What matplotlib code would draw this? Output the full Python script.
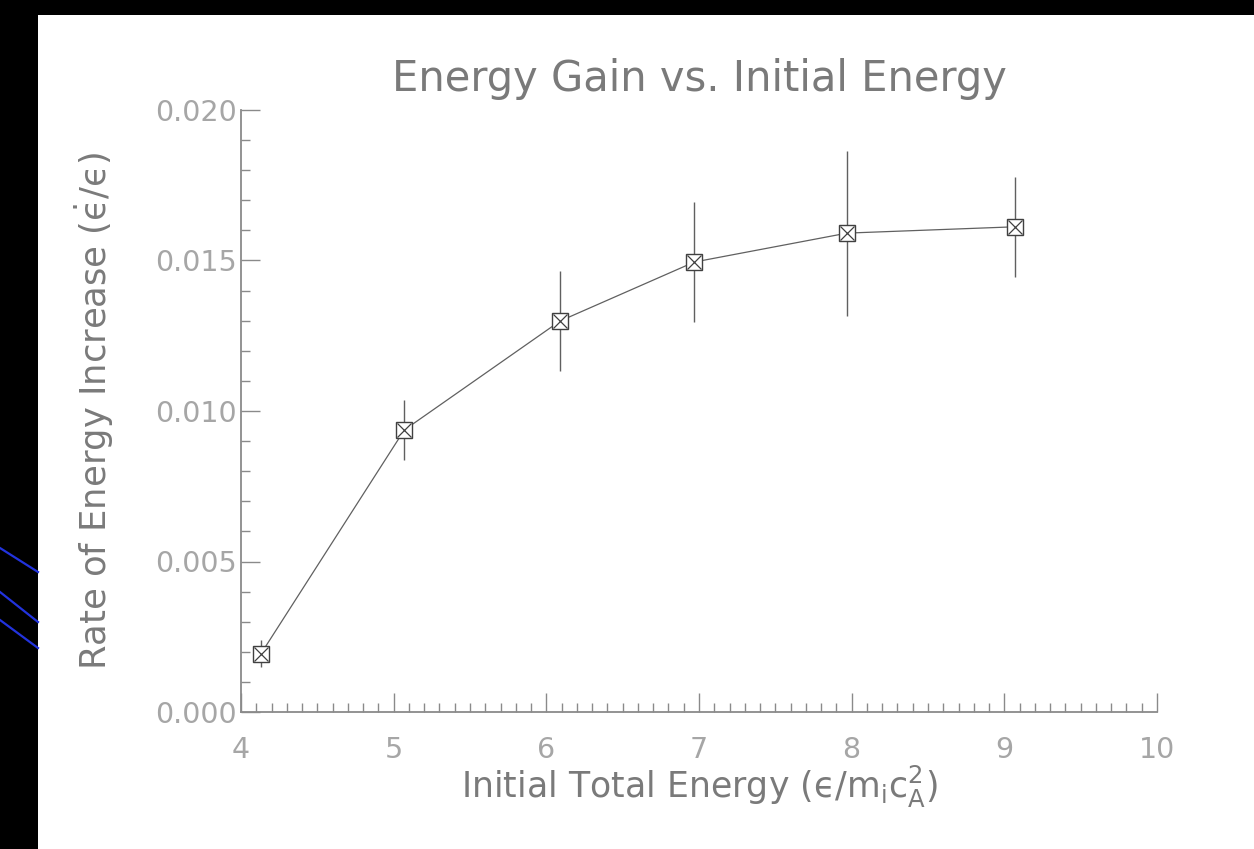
import matplotlib.pyplot as plt
import numpy as np
from matplotlib.patches import Rectangle
from matplotlib.ticker import MultipleLocator

plt.rcParams['mathtext.default'] = 'regular'
plt.rcParams['font.family'] = ['DejaVu Sans']

# values
energy = [4.13, 5.07, 6.09, 6.97, 7.97, 9.07]
rate = [0.00193, 0.00937, 0.01299, 0.01495, 0.01591, 0.01612]
rate_err = [0.00045, 0.0010, 0.00165, 0.0020, 0.00274, 0.00166]

grey = '#8a8a8a'
ink = '#606060'

fig = plt.figure(figsize=(12.54, 8.49), dpi=100, facecolor='black')

# slide background: white panel, black border, a few blue streaks on the left
fig.patches.append(Rectangle((38 / 1254, 0), 1, 1 - 15 / 849, transform=fig.transFigure,
                             facecolor='white', edgecolor='none', zorder=-10))
for (x0, y0), (x1, y1) in [((0, 548), (38, 572)), ((0, 592), (38, 622)), ((0, 620), (38, 648))]:
    fig.add_artist(plt.Line2D([x0 / 1254, x1 / 1254], [1 - y0 / 849, 1 - y1 / 849],
                              transform=fig.transFigure, color='#2233dd', lw=1.6, zorder=-5))

ax = fig.add_axes([241 / 1254, 1 - 712 / 849, 916 / 1254, 602 / 849])
ax.set_facecolor('none')

ax.errorbar(energy, rate, yerr=rate_err, fmt='none', ecolor=ink, elinewidth=1.0, capsize=0)
ax.plot(energy, rate, color=ink, lw=0.9)
ax.plot(energy, rate, ls='none', marker='s', ms=11.5, mfc='white', mec='#404040', mew=1.0)
ax.plot(energy, rate, ls='none', marker='x', ms=9.5, mec='#404040', mew=0.9)

ax.set_xlim(4, 10)
ax.set_ylim(0, 0.020)
ax.xaxis.set_major_locator(MultipleLocator(1))
ax.xaxis.set_minor_locator(MultipleLocator(0.1))
ax.yaxis.set_major_locator(MultipleLocator(0.005))
ax.yaxis.set_minor_locator(MultipleLocator(0.001))
ax.yaxis.set_major_formatter(plt.FuncFormatter(lambda v, p: f'{v:.3f}'))

for s in ['top', 'right']:
    ax.spines[s].set_visible(False)
for s in ['left', 'bottom']:
    ax.spines[s].set_color(grey)
    ax.spines[s].set_linewidth(1.3)

ax.tick_params(which='both', direction='in', color=grey, labelcolor='#a6a6a6', labelsize=20.5)
ax.tick_params(which='major', length=14, width=1.0)
ax.tick_params(which='minor', length=6.5, width=1.0)
ax.tick_params(axis='x', which='major', pad=17)
ax.tick_params(axis='y', which='major', pad=3)

ax.set_title('Energy Gain vs. Initial Energy', fontsize=30, color='#7a7a7a', pad=14)
ax.set_xlabel('Initial Total Energy ($ϵ/m_ic_A^2$)', fontsize=25, color='#7a7a7a', labelpad=0)
ax.set_ylabel(r'Rate of Energy Increase ($\dot{ϵ}/ϵ$)', fontsize=25.5, color='#7a7a7a', labelpad=28)

fig.savefig('out.png', dpi=100, facecolor=fig.get_facecolor())
